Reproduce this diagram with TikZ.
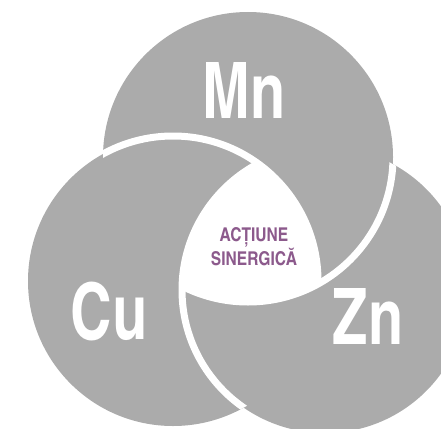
\documentclass[tikz,border=0pt]{standalone}
\usepackage{fontspec}
\usepackage{xcolor}
\newfontfamily\cnfont{texgyreheroscn-bold.otf}
\usetikzlibrary{positioning}
\definecolor{vgray}{RGB}{171,171,171}
\definecolor{vpurple}{RGB}{140,90,140}
\newcommand{\narrow}[1]{\scalebox{0.9}[1]{#1}}

\begin{document}
\begin{tikzpicture}[x=1pt, y=-1pt]
	\tikzstyle{every node} = [inner sep=0pt]
	\tikzstyle{elem} = [text=white, font=\cnfont\fontsize{78}{78}\selectfont]
	\tikzstyle{rim} = [draw=white, line width=7pt]
\useasboundingbox (0,0) rectangle (441,428);
\coordinate (mnc) at (248,157);
\coordinate (cuc) at (173,281);
\coordinate (znc) at (325,290);
\fill[vgray] (mnc) circle (145);
\fill[vgray] (cuc) circle (145);
\fill[vgray] (znc) circle (143);
\begin{scope}
	\clip (mnc) circle (145);
	\clip (cuc) circle (145);
	\fill[white] (znc) circle (143);
\end{scope}
\begin{scope}
	\clip (mnc) circle (145);
	\path[rim] (cuc) circle (145);
\end{scope}
\begin{scope}
	\clip (znc) circle (143);
	\path[rim] (mnc) circle (145);
\end{scope}
\begin{scope}
	\clip (cuc) circle (145);
	\path[rim] (znc) circle (143);
\end{scope}
\node[elem] (mn) at (244,90) {\narrow{Mn}};
\node[elem] (cu) at (109,311) {\narrow{Cu}};
\node[elem] (zn) at (368,316) {\narrow{Zn}};
\node[text=vpurple, align=center, font=\cnfont\fontsize{19}{23}\selectfont] (sin) at (254,247) {ACȚIUNE\\SINERGICĂ};
\end{tikzpicture}
\end{document}
